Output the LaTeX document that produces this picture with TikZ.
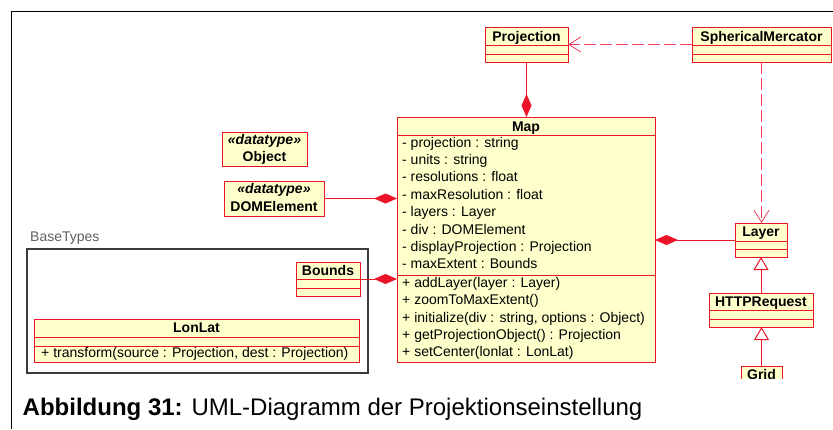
\documentclass[tikz,border=0pt]{standalone}
\usepackage{fontspec}
\setmainfont{Liberation Sans}
\usetikzlibrary{arrows.meta}
\definecolor{umlred}{RGB}{235,20,40}
\definecolor{umlfill}{RGB}{255,255,204}
\definecolor{deppink}{RGB}{240,60,90}
\definecolor{pkggray}{RGB}{60,60,60}
\definecolor{lblgray}{RGB}{95,95,95}
\begin{document}
\begin{tikzpicture}[x=1pt,y=-1pt,
  cls/.style={draw=umlred, fill=umlfill, line width=1pt, inner sep=0pt, outer sep=0pt, anchor=north west},
  pkg/.style={draw=pkggray, fill=white, line width=1.2pt, inner sep=0pt, outer sep=0pt, anchor=north west},
  sep/.style={draw=umlred, line width=0.9pt},
  ttl/.style={font=\fontsize{14}{16}\selectfont\bfseries, inner sep=0pt, anchor=base},
  mem/.style={font=\fontsize{14}{16}\selectfont, inner sep=0pt, anchor=base west},
  stereo/.style={font=\fontsize{14}{16}\selectfont\bfseries\itshape, inner sep=0pt, anchor=base},
  comp/.style={draw=umlred, line width=1pt, -{Diamond[length=23pt,width=10pt,fill=umlred]}},
  dep/.style={draw=deppink, line width=0.8pt, dash pattern=on 12pt off 4pt, -{Straight Barb[length=12pt,width=15pt]}},
  gen/.style={draw=umlred, line width=1pt, -{Triangle[length=13pt,width=15pt,fill=white]}},
]
\useasboundingbox (0,0) rectangle (833,429);

% frame
\draw[line width=0.9pt] (833,11) -- (11,11) -- (11,429);

% Projection
\node[cls, minimum width=83pt, minimum height=35pt] (proj) at (485,27) {};
\draw[sep] (485,45) -- (568,45);
\draw[sep] (485,54) -- (568,54);
\node[ttl] (projT) at (526.5,41) {Projection};

% SphericalMercator
\node[cls, minimum width=139pt, minimum height=35pt] (sm) at (692,27) {};
\draw[sep] (692,45) -- (831,45);
\draw[sep] (692,54) -- (831,54);
\node[ttl] (smT) at (761.5,41) {SphericalMercator};

% Map
\node[cls, minimum width=258pt, minimum height=245pt] (map) at (397,117) {};
\draw[sep] (397,135) -- (655,135);
\draw[sep] (397,275) -- (655,275);
\node[ttl] (mapT) at (526,131) {Map};
\node[mem] (a1) at (402,147.0) {- projection : string};
\node[mem] (a2) at (402,164.4) {- units : string};
\node[mem] (a3) at (402,181.8) {- resolutions : float};
\node[mem] (a4) at (402,199.2) {- maxResolution : float};
\node[mem] (a5) at (402,216.6) {- layers : Layer};
\node[mem] (a6) at (402,234.0) {- div : DOMElement};
\node[mem] (a7) at (402,251.4) {- displayProjection : Projection};
\node[mem] (a8) at (402,268.8) {- maxExtent : Bounds};
\node[mem] (o1) at (402,287.3) {+ addLayer(layer : Layer)};
\node[mem] (o2) at (402,304.6) {+ zoomToMaxExtent()};
\node[mem] (o3) at (402,322.0) {+ initialize(div : string, options : Object)};
\node[mem] (o4) at (402,339.3) {+ getProjectionObject() : Projection};
\node[mem] (o5) at (402,356.7) {+ setCenter(lonlat : LonLat)};

% Object datatype
\node[cls, minimum width=85pt, minimum height=34pt] (obj) at (222,132) {};
\node[stereo] (objS) at (264.5,144) {«datatype»};
\node[ttl] (objT) at (264.5,161.5) {Object};

% DOMElement datatype
\node[cls, minimum width=100pt, minimum height=35pt] (dom) at (224,181) {};
\node[stereo] (domS) at (274,193.5) {«datatype»};
\node[ttl] (domT) at (274,211) {DOMElement};

% BaseTypes package
\node[pkg, minimum width=341pt, minimum height=124pt] (pkgBase) at (27,249) {};
\node[mem, text=lblgray] (pkgLbl) at (30,241.5) {BaseTypes};

% Bounds
\node[cls, minimum width=64pt, minimum height=34pt] (bounds) at (296,262) {};
\draw[sep] (296,279) -- (360,279);
\draw[sep] (296,288) -- (360,288);
\node[ttl] (boundsT) at (328,275) {Bounds};

% LonLat
\node[cls, minimum width=325pt, minimum height=43pt] (lonlat) at (34,319) {};
\draw[sep] (34,337) -- (359,337);
\draw[sep] (34,346) -- (359,346);
\node[ttl] (lonlatT) at (196.5,332) {LonLat};
\node[mem] (lonlatO) at (41,357) {+ transform(source : Projection, dest : Projection)};

% Layer
\node[cls, minimum width=52pt, minimum height=34pt] (layer) at (735,223) {};
\draw[sep] (735,241) -- (787,241);
\draw[sep] (735,249) -- (787,249);
\node[ttl] (layerT) at (761,236) {Layer};

% HTTPRequest
\node[cls, minimum width=104pt, minimum height=34pt] (http) at (709,293) {};
\draw[sep] (709,310) -- (813,310);
\draw[sep] (709,319) -- (813,319);
\node[ttl] (httpT) at (761,306) {HTTPRequest};

% Grid (cut off at the bottom)
\begin{scope}
\clip (700,340) rectangle (833,378);
\node[cls, minimum width=41pt, minimum height=35pt] (grid) at (741,366) {};
\node[ttl] (gridT) at (761.5,379) {Grid};
\end{scope}

% connectors
\draw[dep] (sm.west) -- (proj.east);
\draw[comp] (proj.south) -- (proj.south |- map.north);
\draw[comp] (dom.east) -- (dom.east -| map.west);
\draw[comp] (bounds.east) -- (bounds.east -| map.west);
\draw[comp] (layer.west) -- (layer.west -| map.east);
\draw[dep] (sm.south) -- (sm.south |- layer.north);
\draw[gen] (http.north) -- (http.north |- layer.south);
\draw[gen] (grid.north) -- (grid.north |- http.south);

% caption
\node[inner sep=0pt, anchor=base west, font=\fontsize{24}{28}\selectfont] (cap) at (22.5,415.7) {\textbf{Abbildung 31:} UML-Diagramm der Projektionseinstellung};
\end{tikzpicture}
\end{document}
